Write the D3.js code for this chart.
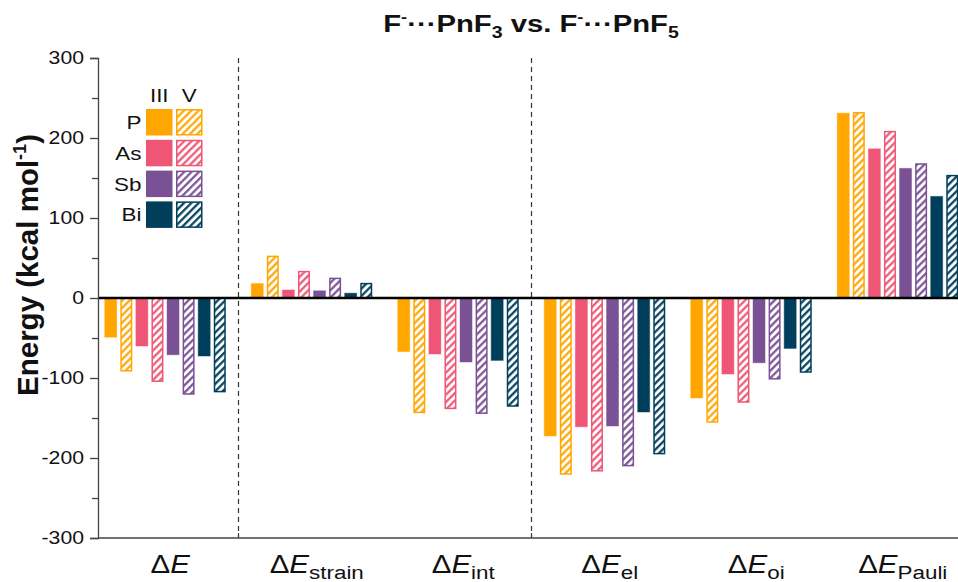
<!DOCTYPE html>
<html>
<head>
<meta charset="utf-8">
<script src="https://cdn.jsdelivr.net/npm/d3@7"></script>
<style>
  body { margin: 0; background: #fff; }
  svg { display: block; font-family: "Liberation Sans", Arial, sans-serif; }
</style>
</head>
<body>
<div id="chart"></div>
<script>
// energy terms (x categories) and their subscripts
const terms = ["dE", "dEstrain", "dEint", "dEel", "dEoi", "dEPauli"];
const termSubs = ["", "strain", "int", "el", "oi", "Pauli"];

const elements = ["P", "As", "Sb", "Bi"];
const elementColors = ["#ffa600", "#ef5675", "#7a5195", "#003f5c"];

// kcal/mol, F-...PnF3 (III) and F-...PnF5 (V)
const pnf3_P  = [-49, 18, -67, -172.5, -125, 231];
const pnf5_P  = [-91, 52, -143, -220, -155, 231.5];
const pnf3_As = [-60, 10, -70, -161, -95, 186.5];
const pnf5_As = [-104, 33, -138, -216, -130, 208];
const pnf3_Sb = [-71, 9, -80, -160, -81, 162];
const pnf5_Sb = [-120, 24.5, -144, -209.5, -101, 167.5];
const pnf3_Bi = [-72.5, 6, -78, -142.5, -63, 127];
const pnf5_Bi = [-117, 18, -135, -194.5, -92.5, 153];

const yTicks = [-300, -200, -100, 0, 100, 200, 300];

const series = [
  { key: "P-III", el: 0, ox: "III", values: pnf3_P },
  { key: "P-V", el: 0, ox: "V", values: pnf5_P },
  { key: "As-III", el: 1, ox: "III", values: pnf3_As },
  { key: "As-V", el: 1, ox: "V", values: pnf5_As },
  { key: "Sb-III", el: 2, ox: "III", values: pnf3_Sb },
  { key: "Sb-V", el: 2, ox: "V", values: pnf5_Sb },
  { key: "Bi-III", el: 3, ox: "III", values: pnf3_Bi },
  { key: "Bi-V", el: 3, ox: "V", values: pnf5_Bi }
];

const W = 958, H = 582;
const axisX = 98;
const sx = 1.18; // the original figure's text is a bit wider than tall

const svg = d3.select("#chart").append("svg")
  .attr("width", W)
  .attr("height", H);

// hatch patterns
const defs = svg.append("defs");
elementColors.forEach((c, i) => {
  const p = defs.append("pattern")
    .attr("id", "hatch" + i)
    .attr("patternUnits", "userSpaceOnUse")
    .attr("width", 5.2)
    .attr("height", 5.2)
    .attr("patternTransform", "rotate(45)");
  p.append("rect").attr("width", 5.2).attr("height", 5.2).attr("fill", "#fff");
  p.append("line")
    .attr("x1", 1.2).attr("y1", 0).attr("x2", 1.2).attr("y2", 5.2)
    .attr("stroke", c)
    .attr("stroke-width", 2.2);
});

const x0 = d3.scaleBand()
  .domain(terms)
  .range([92, 971])
  .paddingInner(0.174)
  .paddingOuter(0.087);

const x1 = d3.scaleBand()
  .domain(series.map(s => s.key))
  .range([0, x0.bandwidth()])
  .paddingInner(0.23)
  .paddingOuter(0);

const y = d3.scaleLinear()
  .domain([-300, 300])
  .range([538, 58]);

// dashed separators
const sepX = [
  (x0(terms[0]) + x0.bandwidth() + x0(terms[1])) / 2,
  (x0(terms[2]) + x0.bandwidth() + x0(terms[3])) / 2
];
svg.selectAll(".sep")
  .data(sepX)
  .join("line")
  .attr("class", "sep")
  .attr("x1", d => d).attr("x2", d => d)
  .attr("y1", y(300)).attr("y2", y(-300))
  .attr("stroke", "#333")
  .attr("stroke-width", 1.2)
  .attr("stroke-dasharray", "5,4");

// bars
const groupsG = svg.selectAll(".grp")
  .data(terms)
  .join("g")
  .attr("class", "grp")
  .attr("transform", d => `translate(${x0(d)},0)`);

groupsG.selectAll("rect")
  .data((t, ti) => series.map(s => ({ s, v: s.values[ti] })))
  .join("rect")
  .attr("x", d => x1(d.s.key) + (d.s.ox === "V" ? 0.75 : 0))
  .attr("width", d => x1.bandwidth() - (d.s.ox === "V" ? 1.5 : 0))
  .attr("y", d => Math.min(y(d.v), y(0)))
  .attr("height", d => Math.abs(y(d.v) - y(0)))
  .attr("fill", d => d.s.ox === "V" ? `url(#hatch${d.s.el})` : elementColors[d.s.el])
  .attr("stroke", d => elementColors[d.s.el])
  .attr("stroke-opacity", d => d.s.ox === "V" ? 1 : 0.45)
  .attr("stroke-width", d => d.s.ox === "V" ? 1.5 : 1);

// zero line
svg.append("line")
  .attr("x1", axisX).attr("x2", W)
  .attr("y1", y(0)).attr("y2", y(0))
  .attr("stroke", "#000")
  .attr("stroke-width", 2.5);

// y axis
const yAxis = svg.append("g")
  .attr("transform", `translate(${axisX},0)`)
  .call(d3.axisLeft(y).tickValues(yTicks).tickSize(8).tickPadding(6).tickFormat(d => String(d)));
yAxis.selectAll("text")
  .attr("x", -14 / sx)
  .attr("transform", `scale(${sx},1)`)
  .style("font-size", "18px")
  .attr("fill", "#111")
  .attr("font-family", "'Liberation Sans', Arial, sans-serif");
yAxis.select(".domain").attr("stroke", "#444").attr("stroke-width", 1.3);
yAxis.selectAll(".tick line").attr("stroke", "#444").attr("stroke-width", 1.3);

svg.append("g")
  .attr("transform", `translate(${axisX},0)`)
  .call(d3.axisLeft(y).tickValues(d3.range(-250, 300, 100)).tickSize(6).tickFormat(""))
  .call(g => g.select(".domain").remove())
  .selectAll(".tick line").attr("stroke", "#444").attr("stroke-width", 1.3);

// bottom axis
svg.append("line")
  .attr("x1", axisX).attr("x2", W)
  .attr("y1", y(-300)).attr("y2", y(-300))
  .attr("stroke", "#444")
  .attr("stroke-width", 1.3);
svg.selectAll(".btick")
  .data(sepX)
  .join("line")
  .attr("class", "btick")
  .attr("x1", d => d).attr("x2", d => d)
  .attr("y1", y(-300)).attr("y2", y(-300) - 5)
  .attr("stroke", "#444")
  .attr("stroke-width", 1.2);

// x labels
const xl = svg.selectAll(".xlab")
  .data(terms)
  .join("text")
  .attr("class", "xlab")
  .attr("transform", d => `translate(${x0(d) + x0.bandwidth() / 2 + 5},573) scale(${sx},1)`)
  .attr("text-anchor", "middle")
  .style("font-size", "25px")
  .attr("fill", "#111");
xl.append("tspan").text("Δ");
xl.append("tspan").attr("font-style", "italic").text("E");
xl.append("tspan")
  .attr("dy", 6)
  .style("font-size", "19px")
  .text((d, i) => termSubs[i]);

// y label
const yl = svg.append("text")
  .attr("transform", "translate(38,265) rotate(-90)")
  .attr("text-anchor", "middle")
  .style("font-size", "29.5px")
  .style("font-weight", "bold")
  .attr("fill", "#111");
yl.append("tspan").text("Energy (kcal mol");
yl.append("tspan").attr("dy", -12).style("font-size", "18px").text("-1");
yl.append("tspan").attr("dy", 12).text(")");

// title
const tt = svg.append("text")
  .attr("transform", `translate(531,32) scale(${sx + 0.04},1)`)
  .attr("text-anchor", "middle")
  .style("font-size", "24px")
  .style("font-weight", "bold")
  .attr("fill", "#111");
tt.append("tspan").text("F");
tt.append("tspan").attr("dy", -10).style("font-size", "15px").text("-");
tt.append("tspan").attr("dy", 10).text("···PnF");
tt.append("tspan").attr("dy", 6).style("font-size", "16px").text("3");
tt.append("tspan").attr("dy", -6).text(" vs. F");
tt.append("tspan").attr("dy", -10).style("font-size", "15px").text("-");
tt.append("tspan").attr("dy", 10).text("···PnF");
tt.append("tspan").attr("dy", 6).style("font-size", "16px").text("5");

// legend
const legX3 = 146, legX5 = 176, legY0 = 109, legRow = 30.8, sq = 26.5;
const leg = svg.append("g");
leg.append("text")
  .attr("transform", `translate(${legX3 + sq / 2},101.5) scale(${sx},1)`)
  .attr("text-anchor", "middle").style("font-size", "19px").attr("fill", "#111").text("III");
leg.append("text")
  .attr("transform", `translate(${legX5 + sq / 2},101.5) scale(${sx},1)`)
  .attr("text-anchor", "middle").style("font-size", "19px").attr("fill", "#111").text("V");

const rows = leg.selectAll(".lrow")
  .data(elements)
  .join("g")
  .attr("class", "lrow")
  .attr("transform", (d, i) => `translate(0,${legY0 + i * legRow})`);
rows.append("text")
  .attr("transform", `translate(141.5,${sq / 2 + 6.8}) scale(${sx},1)`)
  .attr("text-anchor", "end")
  .style("font-size", "19px")
  .attr("fill", "#111")
  .text(d => d);
rows.append("rect")
  .attr("x", legX3).attr("y", 0)
  .attr("width", sq).attr("height", sq)
  .attr("fill", (d, i) => elementColors[i]);
rows.append("rect")
  .attr("x", legX5 + 0.75).attr("y", 0.75)
  .attr("width", sq - 1.5).attr("height", sq - 1.5)
  .attr("fill", (d, i) => `url(#hatch${i})`)
  .attr("stroke", (d, i) => elementColors[i])
  .attr("stroke-width", 1.5);
</script>
</body>
</html>
